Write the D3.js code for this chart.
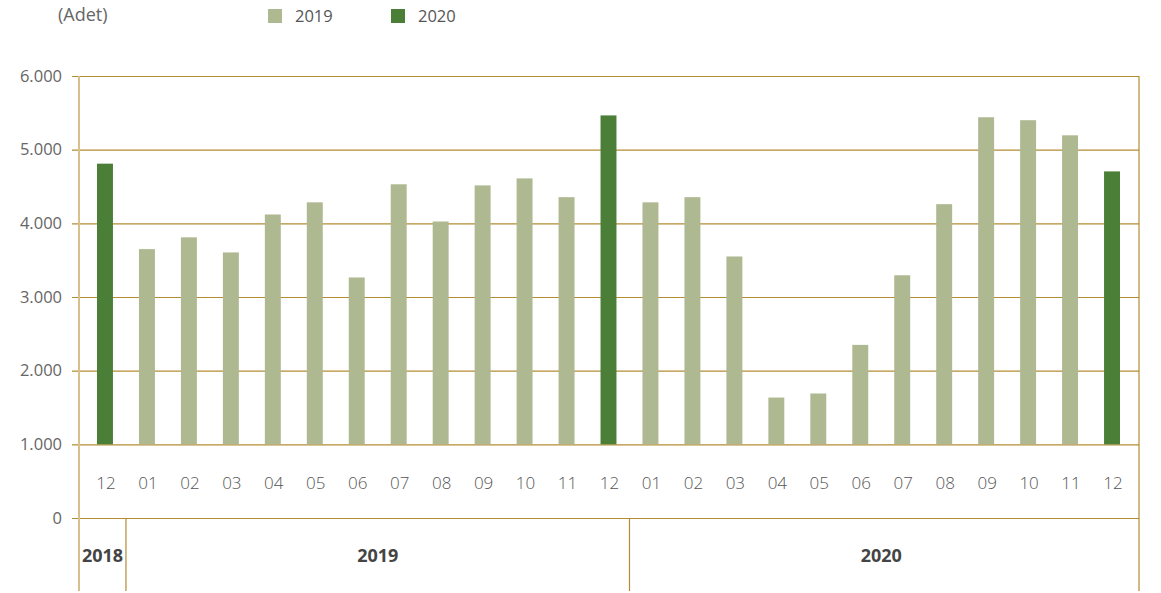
<!DOCTYPE html>
<html>
<head>
<meta charset="utf-8">
<script src="https://cdn.jsdelivr.net/npm/d3@7"></script>
<style>
  body { margin: 0; background: #fff; }
  text { font-family: "Open Sans", "Noto Sans", sans-serif; }
</style>
</head>
<body>
<div id="chart"></div>
<script>
"use strict";

/* Data */
let months = ["12", "01", "02", "03", "04", "05", "06", "07", "08", "09", "10", "11", "12",
  "01", "02", "03", "04", "05", "06", "07", "08", "09", "10", "11", "12"];
let years = ["2018", "2019", "2019", "2019", "2019", "2019", "2019", "2019", "2019", "2019", "2019", "2019", "2019",
  "2020", "2020", "2020", "2020", "2020", "2020", "2020", "2020", "2020", "2020", "2020", "2020"];
let values = [4810, 3650, 3810, 3605, 4120, 4285, 3265, 4530, 4025, 4515, 4610, 4355, 5465,
  4285, 4355, 3550, 1635, 1690, 2350, 3295, 4260, 5440, 5400, 5195, 4705];
let barSeries = ["2020", "2019", "2019", "2019", "2019", "2019", "2019", "2019", "2019", "2019", "2019", "2019", "2020",
  "2019", "2019", "2019", "2019", "2019", "2019", "2019", "2019", "2019", "2019", "2019", "2020"];
let yTicks = [0, 1000, 2000, 3000, 4000, 5000, 6000];
let legendKeys = ["2019", "2020"];
let yearGroups = ["2018", "2019", "2020"];

/* Drawing config */
let svgWidth = 1161;
let svgHeight = 593;
let plotLeft = 79;
let plotRight = 1139;
let plotTop = 76;
let zeroY = 518;
let bottom = 591;
let gold = "#b48c33";
let goldLight = "#d7c08c";
let colors = { "2019": "#aeb891", "2020": "#4b7f38" };

let svg = d3.select("#chart")
  .append("svg")
  .attr("width", svgWidth)
  .attr("height", svgHeight);

let keys = months.map(function (m, i) { return i; });

let xScale = d3.scaleBand()
  .domain(keys)
  .range([84, 1133])
  .paddingInner(0.62)
  .paddingOuter(0.31);

let yScale = d3.scaleLinear()
  .domain([0, 6000])
  .range([zeroY, plotTop]);

let fmt = d3.formatLocale({ decimal: ",", thousands: ".", grouping: [3], currency: ["", ""] }).format(",d");

/* Gridlines + y labels */
let yAxis = d3.axisLeft(yScale)
  .tickValues(yTicks)
  .tickSize(-(plotRight - 72))
  .tickPadding(10)
  .tickFormat(fmt);

let yAxisG = svg.append("g")
  .attr("transform", "translate(" + plotRight + ",0)")
  .call(yAxis);

yAxisG.select(".domain").remove();
yAxisG.selectAll(".tick line")
  .attr("stroke", gold)
  .attr("stroke-width", 1.2)
  .attr("x1", 0)
  .attr("x2", 72 - plotRight);
yAxisG.selectAll(".tick text")
  .attr("x", 62 - plotRight)
  .attr("fill", "#666")
  .attr("font-size", "16.5px")
  .style("font-family", "'Open Sans', sans-serif");

/* Left axis line and right border */
svg.append("line")
  .attr("x1", plotLeft).attr("x2", plotLeft)
  .attr("y1", yScale(6000)).attr("y2", bottom)
  .attr("stroke", goldLight)
  .attr("stroke-width", 2);

svg.append("line")
  .attr("x1", plotRight).attr("x2", plotRight)
  .attr("y1", yScale(6000)).attr("y2", bottom)
  .attr("stroke", gold)
  .attr("stroke-width", 1.2);

/* Year separators */
let yearStart = {};
let yearEnd = {};
keys.forEach(function (k) {
  let yr = years[k];
  let x0 = xScale(k) - xScale.step() * xScale.paddingInner() / 2;
  let x1 = x0 + xScale.step();
  if (yearStart[yr] === undefined) { yearStart[yr] = x0; }
  yearEnd[yr] = x1;
});
yearStart["2018"] = plotLeft;

yearGroups.slice(1).forEach(function (yr) {
  svg.append("line")
    .attr("x1", yearStart[yr]).attr("x2", yearStart[yr])
    .attr("y1", zeroY).attr("y2", bottom)
    .attr("stroke", gold)
    .attr("stroke-width", 1.2);
});

svg.selectAll(".year-label")
  .data(yearGroups)
  .enter()
  .append("text")
  .attr("class", "year-label")
  .attr("x", function (yr) { return (yearStart[yr] + yearEnd[yr]) / 2; })
  .attr("y", 562)
  .attr("text-anchor", "middle")
  .attr("font-size", "18px")
  .attr("font-weight", "bold")
  .attr("fill", "#444")
  .text(function (yr) { return yr; });

/* Bars from the 1.000 line */
svg.selectAll(".bar")
  .data(keys)
  .enter()
  .append("rect")
  .attr("class", "bar")
  .attr("x", function (k) { return xScale(k); })
  .attr("width", xScale.bandwidth())
  .attr("y", function (k) { return yScale(values[k]); })
  .attr("height", function (k) { return yScale(1000) - yScale(values[k]); })
  .attr("fill", function (k) { return colors[barSeries[k]]; });

/* Month labels */
svg.selectAll(".month")
  .data(keys)
  .enter()
  .append("text")
  .attr("class", "month")
  .attr("x", function (k) { return xScale(k) + xScale.bandwidth() / 2 + 1; })
  .attr("y", 489)
  .attr("text-anchor", "middle")
  .attr("font-size", "17px")
  .attr("font-weight", 300)
  .attr("fill", "#555")
  .text(function (k) { return months[k]; });

/* Unit label */
svg.append("text")
  .attr("x", 58)
  .attr("y", 21)
  .attr("font-size", "18px")
  .attr("fill", "#666")
  .text("(Adet)");

/* Legend */
let legendX = [268, 391];
legendKeys.forEach(function (key, i) {
  svg.append("rect")
    .attr("x", legendX[i])
    .attr("y", 9)
    .attr("width", 14)
    .attr("height", 14)
    .attr("fill", colors[key]);
  svg.append("text")
    .attr("x", legendX[i] + 27)
    .attr("y", 22)
    .attr("font-size", "16.5px")
    .attr("fill", "#555")
    .text(key);
});
</script>
</body>
</html>
